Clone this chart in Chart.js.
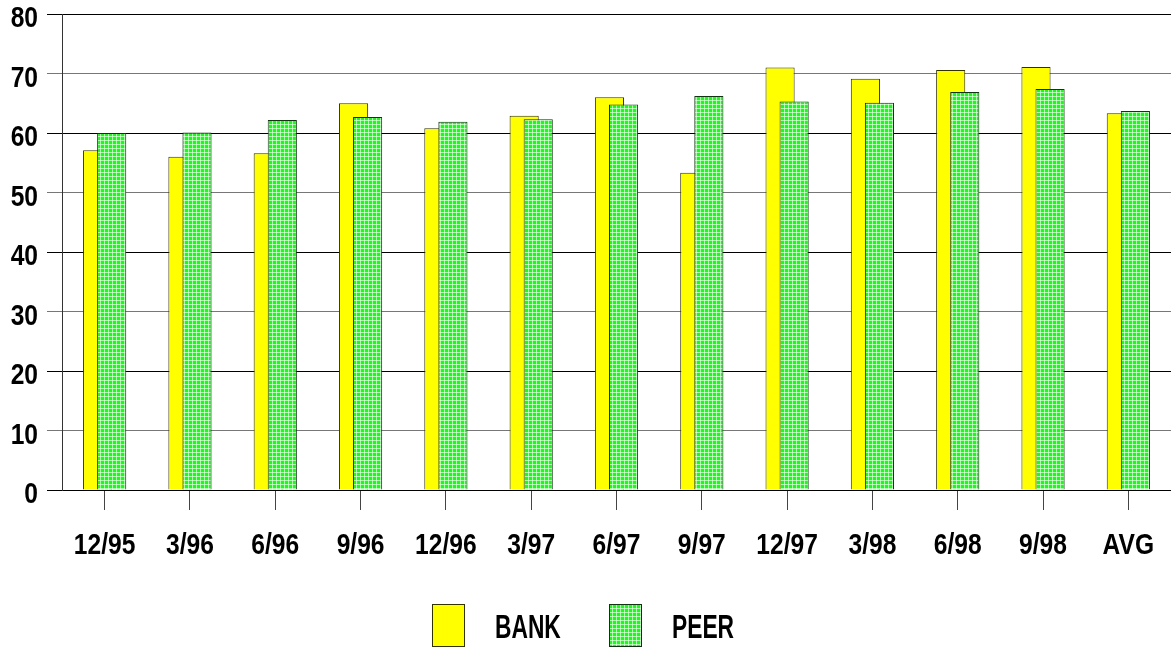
<!DOCTYPE html>
<html>
<head>
<meta charset="utf-8">
<script src="https://cdn.jsdelivr.net/npm/chart.js@4/dist/chart.umd.min.js"></script>
<style>
  html, body { margin: 0; padding: 0; background: #fff; }
  #wrap { width: 1171px; height: 650px; }
</style>
</head>
<body>
<div id="wrap"><canvas id="bankChart" width="1171" height="650"></canvas></div>
<script>
// --- data ---
var categories = ['12/95', '3/96', '6/96', '9/96', '12/96', '3/97', '6/97', '9/97', '12/97', '3/98', '6/98', '9/98', 'AVG'];
var bankValues = [57.1, 56.0, 56.6, 65.0, 60.8, 62.9, 66.0, 53.3, 71.0, 69.1, 70.6, 71.1, 63.3];
var peerValues = [60.0, 60.1, 62.2, 62.7, 61.9, 62.3, 64.8, 66.2, 65.3, 65.1, 66.9, 67.4, 63.7];
var yTicks = [0, 10, 20, 30, 40, 50, 60, 70, 80];

var FONT = "'Liberation Sans', Arial, sans-serif";
var SQUEEZE = 0.82; // the original type is a narrow face

// --- green hatch pattern for PEER ---
function makeHatch() {
    var p = document.createElement('canvas');
    p.width = 4; p.height = 4;
    var c = p.getContext('2d');
    c.fillStyle = '#1cfa1c';
    c.fillRect(0, 0, 4, 4);
    c.fillStyle = 'rgba(255,255,255,0.6)';
    c.fillRect(0, 0, 4, 1);
    c.fillRect(0, 0, 1, 4);
    return c.createPattern(p, 'repeat');
}
var hatch = makeHatch();

function squeezedText(ctx, text, x, y, align, size, sx) {
    ctx.save();
    ctx.translate(x, y);
    ctx.scale(sx, 1);
    ctx.font = 'bold ' + size + 'px ' + FONT;
    ctx.fillStyle = '#000';
    ctx.textAlign = align;
    ctx.textBaseline = 'middle';
    ctx.fillText(text, 0, 0);
    ctx.restore();
}

// BANK sits behind PEER: draw it first, skip it in the normal pass
var backFirst = {
    id: 'backFirst',
    beforeDatasetsDraw: function (chart) {
        chart.getDatasetMeta(0).controller.draw();
    },
    beforeDatasetDraw: function (chart, args) {
        if (args.index === 0) return false;
    }
};

// --- axis labels in a narrow face, placed from the scales ---
var labelPlugin = {
    id: 'narrowLabels',
    afterDraw: function (chart) {
        var ctx = chart.ctx;
        var xs = chart.scales.x, ys = chart.scales.y;
        ys.ticks.forEach(function (t) {
            squeezedText(ctx, String(t.value), 38, ys.getPixelForValue(t.value) + 5, 'right', 30, SQUEEZE);
        });
        categories.forEach(function (c, i) {
            squeezedText(ctx, c, xs.getPixelForValue(i), 546, 'center', 30, SQUEEZE);
        });
    }
};

// --- legend drawn by hand (box, gap, squeezed text) ---
var legendPlugin = {
    id: 'bottomLegend',
    afterDraw: function (chart) {
        var ctx = chart.ctx;
        var items = [
            { label: 'BANK', fill: '#ffff00', stroke: '#333300', x: 432 },
            { label: 'PEER', fill: hatch, stroke: '#113311', x: 609 }
        ];
        items.forEach(function (it) {
            ctx.save();
            ctx.fillStyle = it.fill;
            ctx.fillRect(it.x, 604, 32, 42);
            ctx.strokeStyle = it.stroke;
            ctx.lineWidth = 1;
            ctx.strokeRect(it.x + 0.5, 604.5, 32, 42);
            ctx.restore();
            squeezedText(ctx, it.label, it.x + 63, 629, 'left', 34, 0.67);
        });
    }
};

new Chart(document.getElementById('bankChart').getContext('2d'), {
    type: 'bar',
    data: {
        labels: categories,
        datasets: [{
            label: 'BANK',
            data: bankValues,
            backgroundColor: '#ffff00',
            borderColor: '#333300',
            borderWidth: 1,
            categoryPercentage: 0.33,
            barPercentage: 2.07
        }, {
            label: 'PEER',
            data: peerValues,
            backgroundColor: hatch,
            borderColor: '#113311',
            borderWidth: 1,
            categoryPercentage: 0.33,
            barPercentage: 2.07
        }]
    },
    options: {
        responsive: false,
        animation: false,
        devicePixelRatio: 1,
        layout: { padding: { top: 14, right: 0, left: 0, bottom: 0 } },
        plugins: {
            legend: { display: false },
            tooltip: { enabled: false }
        },
        scales: {
            x: {
                grid: {
                    display: true,
                    offset: false,
                    drawOnChartArea: false,
                    drawTicks: true,
                    tickLength: 20,
                    color: '#444'
                },
                border: { display: true, color: '#000' },
                ticks: { display: false, autoSkip: false },
                afterFit: function (scale) {
                    scale.height = 160;
                    scale.paddingLeft = 0;
                    scale.paddingRight = 0;
                }
            },
            y: {
                min: 0,
                max: 80,
                afterBuildTicks: function (scale) {
                    scale.ticks = yTicks.map(function (v) { return { value: v }; });
                },
                grid: {
                    drawTicks: true,
                    tickLength: 15,
                    color: function (c) {
                        return (c.tick && c.tick.value % 20 === 0) ? '#000' : '#777';
                    }
                },
                border: { display: true, color: '#333' },
                ticks: { display: false },
                afterFit: function (scale) {
                    scale.width = 62;
                    scale.paddingTop = 0;
                    scale.paddingBottom = 0;
                }
            }
        }
    },
    plugins: [backFirst, labelPlugin, legendPlugin]
});
</script>
</body>
</html>
